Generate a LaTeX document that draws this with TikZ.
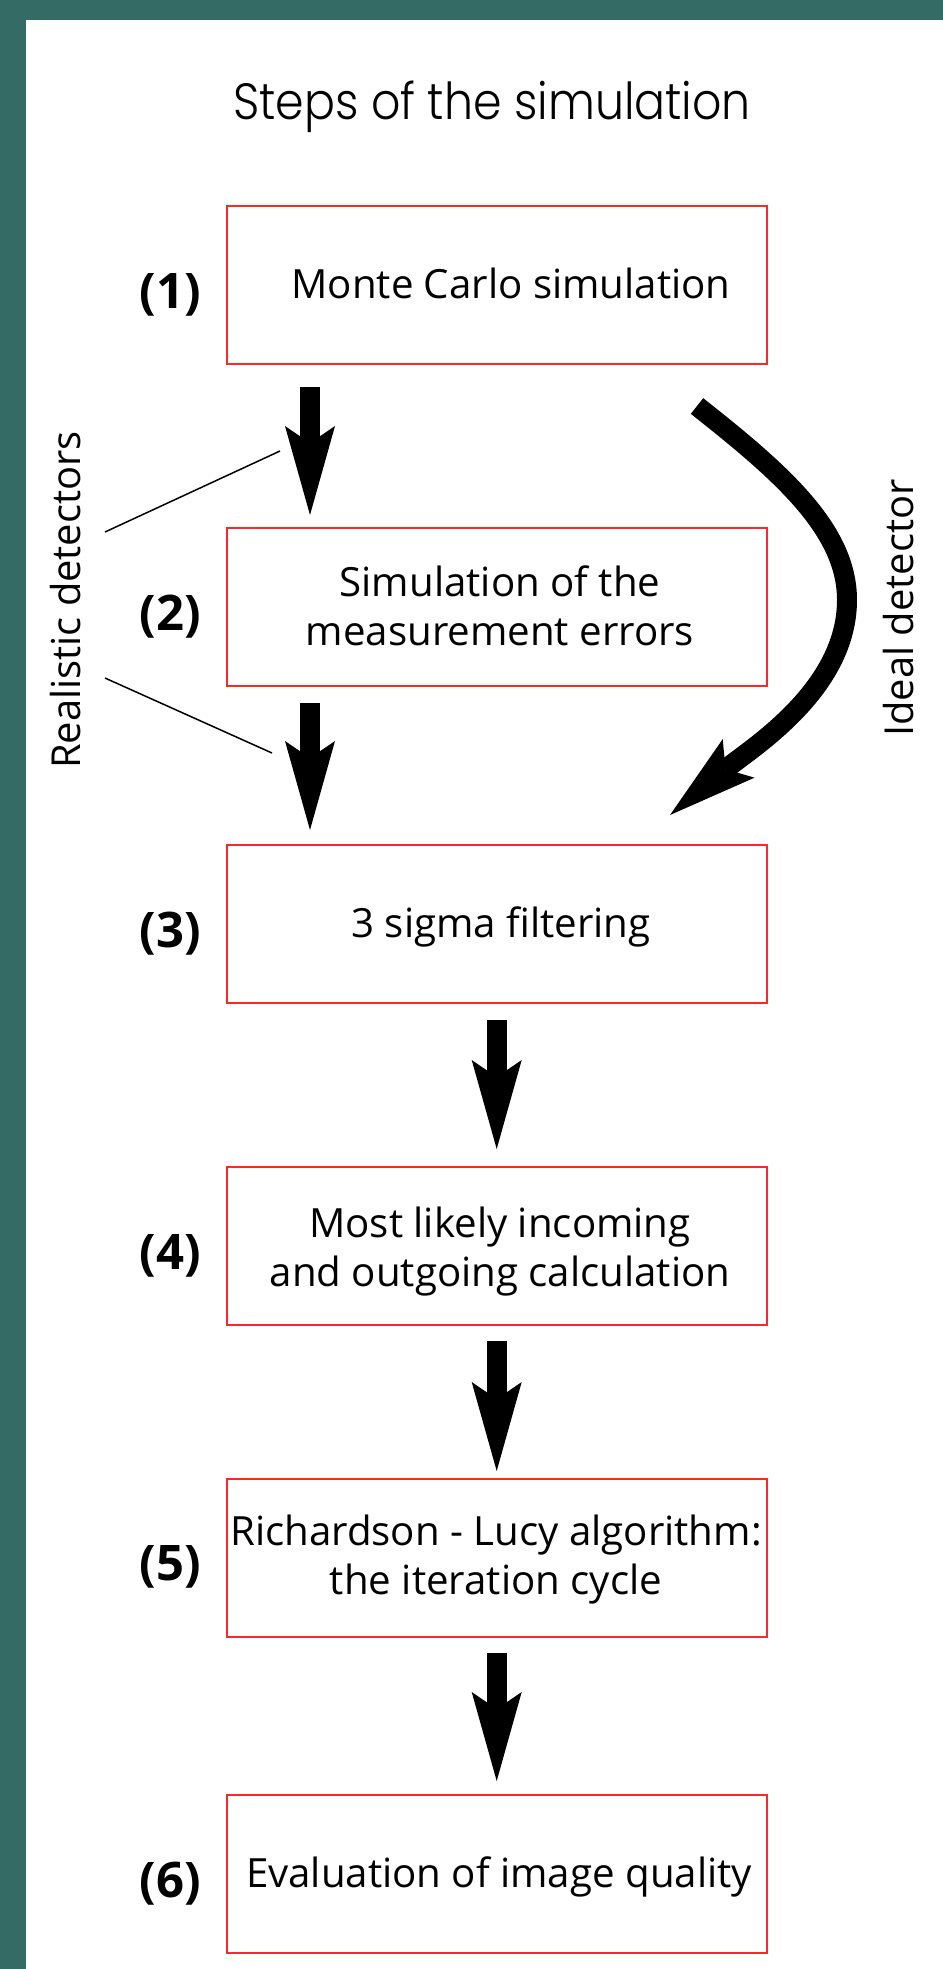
\documentclass[tikz,border=0pt]{standalone}
\usepackage{fontspec}
\setmainfont{Open Sans}
\IfFontExistsTF{Poppins Light}{\newfontfamily\titlefont{Poppins Light}}{\newfontfamily\titlefont{Poppins}}
\usetikzlibrary{arrows.meta,calc}
\definecolor{frameteal}{RGB}{52,107,101}
\definecolor{boxred}{RGB}{250,40,40}
\newlength\pu \setlength\pu{0.02cm}
\tikzset{
 stepbox/.style={draw=boxred, line width=2\pu, minimum width=540\pu, minimum height=158\pu, inner sep=0pt},
 boxtext/.style={anchor=base, inner sep=0pt, font=\fontsize{22.9}{27.9}\selectfont},
 numlabel/.style={anchor=base, inner sep=0pt, font=\fontsize{27.9}{33}\selectfont\bfseries},
 sidelabel/.style={anchor=base, inner sep=0pt, rotate=90, font=\fontsize{22.7}{27}\selectfont},
 bigarrow/.style={line width=0.4cm, -{Stealth[length=1.78cm, width=1cm, inset=0.34cm, line width=0pt]}},
 thinline/.style={line width=0.03cm},
}
\begin{document}
\begin{tikzpicture}[x=0.02cm, y=-0.02cm]
\useasboundingbox (0,0) rectangle (943,1969);
\fill[white] (0,0) rectangle (943,1969);
\fill[frameteal] (0,0) rectangle (943,20);
\fill[frameteal] (0,0) rectangle (26,1969);

\node[anchor=base, inner sep=0pt, font=\titlefont\fontsize{29}{34}\selectfont] (title) at (492,119) {\scalebox{0.9}[1]{Steps of the simulation}};

\node[stepbox] (b1) at (496.7,285) {};
\node[stepbox] (b2) at (496.7,607) {};
\node[stepbox] (b3) at (496.7,924) {};
\node[stepbox] (b4) at (496.7,1246) {};
\node[stepbox] (b5) at (496.7,1557.5) {};
\node[stepbox] (b6) at (496.7,1874) {};

\node[boxtext] (t1) at (511,298) {Monte Carlo simulation};
\node[boxtext] (t2) at (500,596) {\begin{tabular}[t]{@{}c@{}}Simulation of the\\measurement errors\end{tabular}};
\node[boxtext] (t3) at (501,937) {3 sigma filtering};
\node[boxtext] (t4) at (500,1237) {\begin{tabular}[t]{@{}c@{}}Most likely incoming\\and outgoing calculation\end{tabular}};
\node[boxtext] (t5) at (496,1545) {\begin{tabular}[t]{@{}c@{}}Richardson - Lucy algorithm:\\the iteration cycle\end{tabular}};
\node[boxtext] (t6) at (499,1887) {Evaluation of image quality};

\node[numlabel] (n1) at (170,308) {(1)};
\node[numlabel] (n2) at (170,630) {(2)};
\node[numlabel] (n3) at (170,947) {(3)};
\node[numlabel] (n4) at (170,1269) {(4)};
\node[numlabel] (n5) at (170,1580) {(5)};
\node[numlabel] (n6) at (170,1897) {(6)};

\draw[bigarrow] ($(b1.south)+(-186.7,22)$) -- ($(b2.north)+(-186.7,-12)$);
\draw[bigarrow] ($(b2.south)+(-186.7,16)$) -- ($(b3.north)+(-186.7,-14)$);
\draw[bigarrow] ($(b3.south)+(0,16)$) -- ($(b4.north)+(0,-17)$);
\draw[bigarrow] ($(b4.south)+(0,15)$) -- ($(b5.north)+(0,-6.5)$);
\draw[bigarrow] ($(b5.south)+(0,15.5)$) -- ($(b6.north)+(0,-13)$);

\coordinate (idealstart) at (697,406);
\coordinate (idealend) at (670,815);
\draw[bigarrow] (idealstart) .. controls (782,473) and (847,530) .. (847,600) .. controls (847,690) and (750,749) .. (idealend);

\node[sidelabel] (real) at (80,600) {Realistic detectors};
\node[sidelabel] (ideal) at (913,608) {Ideal detector};

\coordinate (r1a) at (105,532);
\coordinate (r1b) at (280,451);
\coordinate (r2a) at (105,678);
\coordinate (r2b) at (272,753);
\draw[thinline] (r1a) -- (r1b);
\draw[thinline] (r2a) -- (r2b);
\end{tikzpicture}
\end{document}
